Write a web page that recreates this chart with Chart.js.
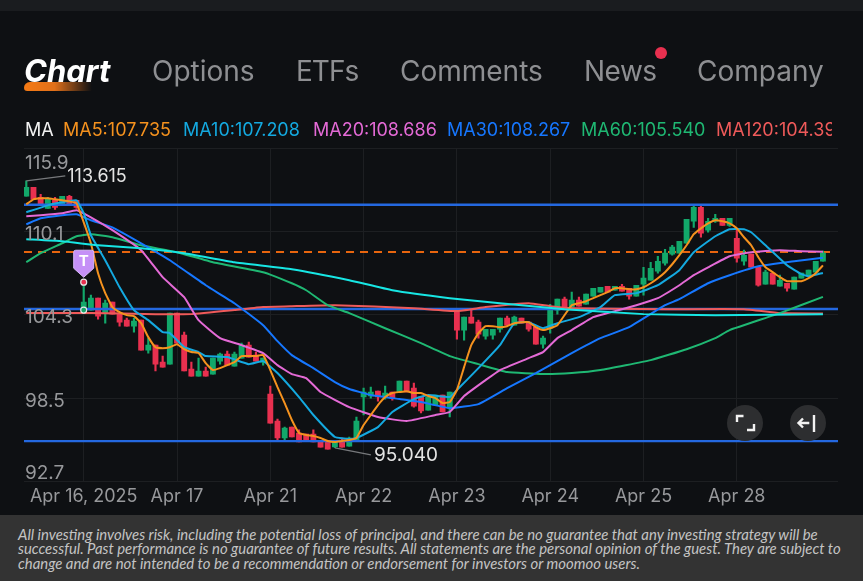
<!DOCTYPE html>
<html>
<head>
<meta charset="utf-8">
<script src="https://cdn.jsdelivr.net/npm/chart.js@4"></script>
<style>
  html,body{margin:0;padding:0;background:#0e1013;}
  #page{position:relative;width:863px;height:581px;overflow:hidden;background:#0e1013;font-family:Inter,sans-serif;}
  #topband{position:absolute;left:0;top:0;width:863px;height:11px;background:#1a1c1f;}
  canvas{position:absolute;left:0;top:0;}
  .tab{position:absolute;top:53px;font-size:28px;line-height:36px;color:#8e8f92;white-space:nowrap;}
  #active{color:#fff;font-weight:700;font-style:italic;font-size:31px;}
  #underline{position:absolute;left:24px;top:82px;width:68px;height:9px;border-radius:7px 0 0 4px;background:linear-gradient(90deg,#f57a14 0%,#e0701a 45%,rgba(14,16,19,0) 100%);}
  #dot{position:absolute;left:655px;top:47px;width:12px;height:12px;border-radius:50%;background:#e8304f;}
  .ma{position:absolute;top:119px;font-size:18px;line-height:22px;white-space:nowrap;}
  #ma120{width:116px;overflow:hidden;}
  .btn{position:absolute;top:405px;width:36px;height:36px;}
  #foot{position:absolute;left:0;top:515px;width:863px;height:66px;background:#333;color:#c4c4c4;font-family:Lato,sans-serif;font-style:italic;font-size:14.9px;}
  #foot div{position:absolute;left:18px;line-height:14px;white-space:nowrap;}
</style>
</head>
<body>
<div id="page">
  <div id="topband"></div>
  <canvas id="chart" width="863" height="581"></canvas>
  <div id="underline"></div>
  <div class="tab" id="active" style="left:24px">Chart</div>
  <div class="tab" style="left:152px">Options</div>
  <div class="tab" style="left:296px;letter-spacing:-1px">ETFs</div>
  <div class="tab" style="left:400px">Comments</div>
  <div class="tab" style="left:584px;letter-spacing:-0.5px">News</div>
  <div id="dot"></div>
  <div class="tab" style="left:697px">Company</div>
  <div class="ma" style="left:25px;color:#f2f2f2">MA</div>
  <div class="ma" style="left:63px;color:#f5921e">MA5:107.735</div>
  <div class="ma" style="left:183px;color:#14a9e0">MA10:107.208</div>
  <div class="ma" style="left:313px;color:#e46ad6">MA20:108.686</div>
  <div class="ma" style="left:447px;color:#1677ff">MA30:108.267</div>
  <div class="ma" style="left:581px;color:#1fb873">MA60:105.540</div>
  <div class="ma" id="ma120" style="left:716px;color:#ef5a5a">MA120:104.390</div>
  <svg class="btn" style="left:727px" viewBox="0 0 36 36">
    <circle cx="18" cy="18" r="18" fill="#2d2e30"/>
    <path d="M10 17V11h6.5M27 19v6h-7" fill="none" stroke="#f2f2f2" stroke-width="2.4"/>
  </svg>
  <svg class="btn" style="left:790px" viewBox="0 0 36 36">
    <circle cx="18" cy="18" r="18" fill="#2d2e30"/>
    <path d="M19.3 18H9M13 13.5L8.5 18l4.5 4.5M24 10v17" fill="none" stroke="#f2f2f2" stroke-width="2.4"/>
  </svg>
  <div id="foot">
    <div style="top:12px">All investing involves risk, including the potential loss of principal, and there can be no guarantee that any investing strategy will be</div>
    <div style="top:26px">successful. Past performance is no guarantee of future results. All statements are the personal opinion of the guest. They are subject to</div>
    <div style="top:41px">change and are not intended to be a recommendation or endorsement for investors or moomoo users.</div>
  </div>
</div>
<script>
// ---------------- DATA ----------------
const dayAt=[8,21,34,47,60,73,86,99];
const dayLabels=["Apr 16, 2025","Apr 17","Apr 21","Apr 22","Apr 23","Apr 24","Apr 25","Apr 28"];
const yTicks=[92.7,98.5,104.3,110.1,115.9];

const opens=[112.54,113.16,112.47,111.70,112.26,111.91,112.54,112.26,104.62,104.62,105.45,104.41,105.17,104.41,103.92,103.50,103.92,101.84,102.18,101.00,
100.86,104.41,102.88,100.52,100.03,100.38,100.17,101.07,101.56,100.72,101.28,102.18,101.49,101.00,98.78,96.90,95.72,96.48,96.07,96.00,
96.00,95.51,95.51,95.10,95.58,95.16,95.51,98.57,98.64,98.98,98.57,98.92,98.92,99.68,99.19,98.57,97.66,98.01,98.71,97.80,
104.48,103.23,104.13,103.78,102.81,102.88,103.29,104.06,103.57,104.06,103.78,103.43,102.25,103.36,104.62,105.38,104.82,105.31,105.03,105.59,
105.87,106.28,106.00,106.28,106.14,105.59,106.42,106.70,107.33,107.88,108.51,108.58,109.27,110.80,111.77,110.18,110.80,111.01,110.52,109.62,
108.02,108.51,107.60,106.42,107.19,106.28,106.49,106.07,106.84,106.98,107.26,108.02];
const closes=[113.16,112.33,111.91,112.40,111.77,112.54,111.91,111.77,105.17,105.45,104.20,105.10,104.34,103.78,103.50,103.85,101.84,102.18,100.86,100.65,
104.41,102.32,100.38,100.03,100.38,100.03,101.28,101.56,100.79,101.56,102.18,101.35,101.07,101.28,96.76,95.72,96.41,95.79,95.44,95.51,
95.44,95.09,94.95,95.44,95.09,95.72,96.90,98.92,98.92,98.57,98.85,98.50,99.68,98.92,97.94,97.60,98.57,98.71,97.53,98.92,
103.23,104.13,103.71,102.95,103.29,103.29,104.06,103.57,104.13,103.71,103.29,102.25,102.67,104.62,105.38,104.82,105.31,104.89,105.73,106.14,
106.21,105.87,106.28,105.94,105.59,106.35,106.84,107.53,108.02,108.58,109.00,109.41,110.94,111.77,109.97,110.80,111.01,110.52,111.01,108.23,
108.44,107.60,106.35,107.26,106.42,106.70,106.14,106.91,107.19,107.40,108.02,108.58];
const highs=[113.615,113.16,112.68,112.47,112.47,112.54,112.60,112.26,106.56,105.66,105.45,105.31,105.17,104.41,104.06,104.06,103.92,102.67,102.18,101.42,
104.41,104.41,103.09,101.00,101.28,100.65,101.28,101.63,101.77,101.70,102.32,102.39,101.70,101.28,99.33,97.04,96.48,96.48,96.28,96.00,
96.28,95.51,95.51,95.44,95.72,95.79,97.18,99.19,99.26,98.98,99.33,98.92,99.68,99.68,99.54,98.57,98.57,98.71,98.71,98.92,
104.62,104.13,104.62,103.92,103.29,103.29,104.06,104.20,104.20,104.06,103.78,103.43,102.81,105.03,105.38,105.52,105.87,105.52,105.73,106.14,
106.21,106.28,106.28,106.42,106.14,106.35,107.60,107.95,108.37,108.85,109.13,109.41,110.94,111.98,111.98,111.01,111.29,111.01,111.01,110.18,
108.79,108.51,107.60,107.40,107.19,107.05,106.49,106.91,107.19,107.40,108.02,108.72];
const lows=[112.54,112.33,111.91,111.70,111.63,111.91,111.91,111.70,104.62,104.62,103.99,103.71,104.34,103.50,103.50,103.09,101.84,101.63,100.38,100.65,
100.86,102.32,100.38,100.03,100.03,100.03,100.17,100.86,100.79,100.72,101.28,101.35,101.07,100.79,96.76,95.51,95.58,95.79,95.44,95.51,
95.44,95.09,94.95,95.04,95.09,95.16,95.51,97.32,98.50,98.29,98.43,98.36,98.92,98.92,97.87,97.46,97.66,98.01,97.53,97.18,
102.60,102.53,103.71,102.67,102.60,102.60,103.09,103.57,103.57,103.71,103.16,102.25,101.97,103.02,104.34,104.82,104.82,104.89,105.03,105.59,
105.87,105.87,106.00,105.94,105.38,105.59,105.66,106.70,107.19,107.74,108.44,108.58,109.27,110.38,109.69,110.04,110.73,110.52,110.45,107.95,
107.74,107.60,106.28,106.42,106.42,106.28,105.94,106.07,106.84,106.98,107.26,108.02];

const ma5=[111.98,112.33,112.40,112.40,112.33,112.26,112.19,112.05,110.73,109.27,107.19,105.80,104.83,104.48,104.27,104.20,103.71,102.74,102.04,101.97,
102.04,102.25,101.90,101.70,101.63,100.93,100.45,100.58,100.79,101.00,101.42,101.42,101.42,101.49,100.45,99.26,98.15,96.97,96.07,95.93,
95.86,95.72,95.51,95.44,95.51,95.58,95.72,96.62,97.32,98.01,98.57,98.85,98.92,98.98,98.85,98.85,98.64,98.50,98.15,98.22,
99.06,100.65,102.18,103.02,103.50,103.50,103.43,103.50,103.71,103.78,103.78,103.43,103.23,103.36,103.57,104.27,104.96,105.10,105.24,105.45,
105.66,105.87,106.14,106.14,106.07,106.07,106.21,106.49,106.84,107.26,107.81,108.44,109.13,109.90,110.31,110.66,110.87,110.80,110.66,110.31,
109.69,109.13,108.30,107.60,107.26,106.91,106.63,106.63,106.63,106.84,107.19,107.735];

const ma10At=[0,3,5,7,8,9,11,13,15,17,19,20,22,24,25,28,31,33,35,38,40,43,45,46,49,51,54,56,59,60,63,66,68,70,72,74,77,80,82,85,88,91,93,96,98,100,101,103,106,108,109,111];
const ma10=[111.43,111.91,112.12,112.26,111.36,109.83,108.09,106.21,104.62,103.92,103.09,103.02,102.04,101.70,101.42,101.35,100.86,101.07,100.24,98.57,97.32,95.79,95.65,95.72,96.48,97.53,98.43,98.71,98.57,99.06,100.58,102.18,103.71,103.78,103.36,103.71,104.13,104.82,105.66,105.80,106.35,107.40,108.65,109.76,110.24,110.24,110.04,109.13,107.74,107.12,106.98,107.208];
const ma20At=[0,2,5,7,9,12,16,19,22,24,27,30,33,35,37,39,41,45,49,53,57,59,61,64,66,70,72,74,76,79,81,85,88,91,93,95,98,101,105,108,111];
const ma20=[111.15,111.22,111.36,111.57,111.08,110.18,108.79,106.91,105.52,103.92,102.67,102.18,101.63,100.79,100.17,99.89,98.92,97.87,97.18,96.90,97.32,97.53,98.64,99.75,100.45,101.28,101.70,102.67,103.23,104.13,104.41,104.96,105.45,106.35,107.05,107.60,108.37,108.65,108.79,108.72,108.686];
const ma30At=[0,2,5,7,9,12,16,20,25,29,33,35,37,40,43,45,48,52,55,59,63,67,71,76,80,84,89,91,95,98,102,107,111];
const ma30=[110.59,111.01,111.22,111.29,110.87,110.38,109.27,108.09,106.35,105.10,103.57,102.46,101.49,100.58,99.61,99.13,98.71,98.43,98.22,97.80,98.08,99.19,100.24,101.63,102.67,103.43,104.96,105.38,106.49,107.05,107.67,108.02,108.267];
const ma60At=[0,2,5,7,9,12,16,21,26,33,37,39,42,45,50,55,59,63,67,72,76,80,87,92,96,98,105,111];
const ma60=[107.95,108.58,109.27,109.76,109.90,109.69,109.13,108.65,107.95,107.26,106.49,106.00,104.96,104.41,103.36,102.32,101.42,100.86,100.31,100.17,100.24,100.45,101.14,101.90,102.67,103.23,104.41,105.54];
const ma120At=[0,9,18,23,29,33,37,43,54,60,64,70,73,76,89,100,105,111];
const ma120=[104.41,104.41,104.34,104.34,104.62,104.83,104.89,104.96,104.75,104.55,104.83,105.10,104.89,104.75,104.68,104.68,104.41,104.39];
const ma250At=[0,5,10,16,22,29,37,45,51,59,66,75,86,96,111];
const ma250=[109.55,109.41,109.13,108.92,108.58,107.95,107.47,106.70,106.00,105.45,105.10,104.68,104.34,104.27,104.34];

const levels=[111.95,104.7,95.5];
const lastPrice=108.67;
const tradeAt=[8,8];
const tradeValues=[106.56,104.62];

// ---------------- HELPERS ----------------
const UP="#12a86a", DOWN="#e8304f";
const xMin=-0.32, xMax=113.1;
const candleColors=opens.map((o,i)=>closes[i]>=o?UP:DOWN);

function maLine(at,vals,color,order){
  return {type:"line",data:at.map((x,i)=>({x:x,y:vals[i]})),borderColor:color,borderWidth:2,
    pointRadius:0,tension:0.12,order:order};
}
function hLine(v,x0,x1,color,width,dash,order){
  return {type:"line",data:[{x:x0,y:v},{x:x1,y:v}],borderColor:color,borderWidth:width,
    borderDash:dash,pointRadius:0,order:order};
}

// ---------------- OVERLAYS (tick labels, T marker, high/low callouts) ----------------
const overlays={
  id:"overlays",
  afterDatasetsDraw(chart){
    const ctx=chart.ctx, xs=chart.scales.x, ys=chart.scales.y;
    ctx.save();
    // price labels sit inside the plot and are pushed in at the top and bottom
    ctx.font="19px Inter, sans-serif"; ctx.fillStyle="#97989b";
    ctx.textAlign="left"; ctx.textBaseline="middle";
    yTicks.forEach((t,i)=>{
      const off=i===0?-8:(i===yTicks.length-1?15:3);
      ctx.fillText(t.toFixed(1),25,ys.getPixelForValue(t)+off);
    });

    // high callout
    const hx=xs.getPixelForValue(0), hy=ys.getPixelForValue(highs[0]);
    ctx.strokeStyle="#77797c"; ctx.lineWidth=1.3;
    ctx.beginPath(); ctx.moveTo(hx,hy); ctx.lineTo(hx+39,hy-5); ctx.stroke();
    ctx.font="18px Inter, sans-serif"; ctx.fillStyle="#e4e4e4";
    ctx.fillText(highs[0].toFixed(3),hx+41,hy-4);
    // low callout
    const lx=xs.getPixelForValue(43), ly=ys.getPixelForValue(lows[43]);
    ctx.beginPath(); ctx.moveTo(lx,ly); ctx.lineTo(lx+36,ly+7); ctx.stroke();
    ctx.font="19px Inter, sans-serif";
    ctx.fillText(lows[43].toFixed(3),lx+39,ly+8);

    // T badge
    const bx=xs.getPixelForValue(tradeAt[0]), tip=ys.getPixelForValue(tradeValues[0])-5;
    ctx.beginPath();
    ctx.moveTo(bx-8,tip-27); ctx.lineTo(bx+8,tip-27);
    ctx.quadraticCurveTo(bx+10,tip-27,bx+10,tip-25);
    ctx.lineTo(bx+10,tip-9); ctx.lineTo(bx,tip); ctx.lineTo(bx-10,tip-9);
    ctx.lineTo(bx-10,tip-25);
    ctx.quadraticCurveTo(bx-10,tip-27,bx-8,tip-27);
    ctx.closePath();
    ctx.fillStyle="#c590f7"; ctx.fill();
    ctx.strokeStyle="#d9b8fb"; ctx.lineWidth=1; ctx.stroke();
    ctx.font="bold 15px Inter, sans-serif"; ctx.textAlign="center"; ctx.fillStyle="#fff";
    ctx.fillText("T",bx,tip-16);
    ctx.restore();
  }
};

// ---------------- CHART ----------------
new Chart(document.getElementById("chart"),{
  data:{
    datasets:[
      hLine(lastPrice,xMin,112.2,"#e8650e",2,[8,6],20),
      {type:"bar",data:opens.map((o,i)=>({x:i,y:[lows[i],highs[i]]})),backgroundColor:candleColors,
        barThickness:1.5,grouped:false,order:11},
      {type:"bar",data:opens.map((o,i)=>({x:i,y:[o,closes[i]]})),backgroundColor:candleColors,
        barThickness:5.2,minBarLength:1.5,grouped:false,order:10},
      ...levels.map(v=>hLine(v,xMin,xMax,"#2468e0",2.4,[],8)),
      maLine(ma120At,ma120,"#ef5a5a",7),
      maLine(ma60At,ma60,"#1fb873",6),
      maLine(ma30At,ma30,"#1677ff",5),
      maLine(ma20At,ma20,"#e46ad6",4),
      maLine(ma10At,ma10,"#14a9e0",3),
      maLine(opens.map((o,i)=>i),ma5,"#f5921e",2),
      maLine(ma250At,ma250,"#17e6e4",1),
      {type:"line",data:tradeAt.map((x,i)=>({x:x,y:tradeValues[i]})),showLine:false,pointRadius:3,
        pointBackgroundColor:[DOWN,UP],pointBorderColor:"#e6e6e6",pointBorderWidth:1.2,order:0}
    ]
  },
  options:{
    responsive:false,animation:false,
    layout:{padding:{left:24,right:25,top:148,bottom:0}},
    plugins:{legend:{display:false},tooltip:{enabled:false}},
    scales:{
      x:{
        type:"linear",min:xMin,max:xMax,offset:false,
        afterBuildTicks:s=>{s.ticks=dayAt.map(v=>({value:v}));},
        afterFit:s=>{s.height=99.6;},
        ticks:{autoSkip:false,maxRotation:0,padding:4,color:"#97989b",font:{family:"Inter, sans-serif",size:18},
          callback:v=>dayLabels[dayAt.indexOf(v)]},
        grid:{offset:false,color:"#1d1f22",lineWidth:1,drawTicks:false},
        border:{display:false}
      },
      y:{
        min:yTicks[0],max:yTicks[yTicks.length-1],
        afterBuildTicks:s=>{s.ticks=yTicks.map(v=>({value:v}));},
        afterFit:s=>{s.width=0;},
        ticks:{display:false},
        grid:{color:"#1d1f22",lineWidth:1,drawTicks:false},
        border:{display:false}
      }
    }
  },
  plugins:[overlays]
});
</script>
</body>
</html>
